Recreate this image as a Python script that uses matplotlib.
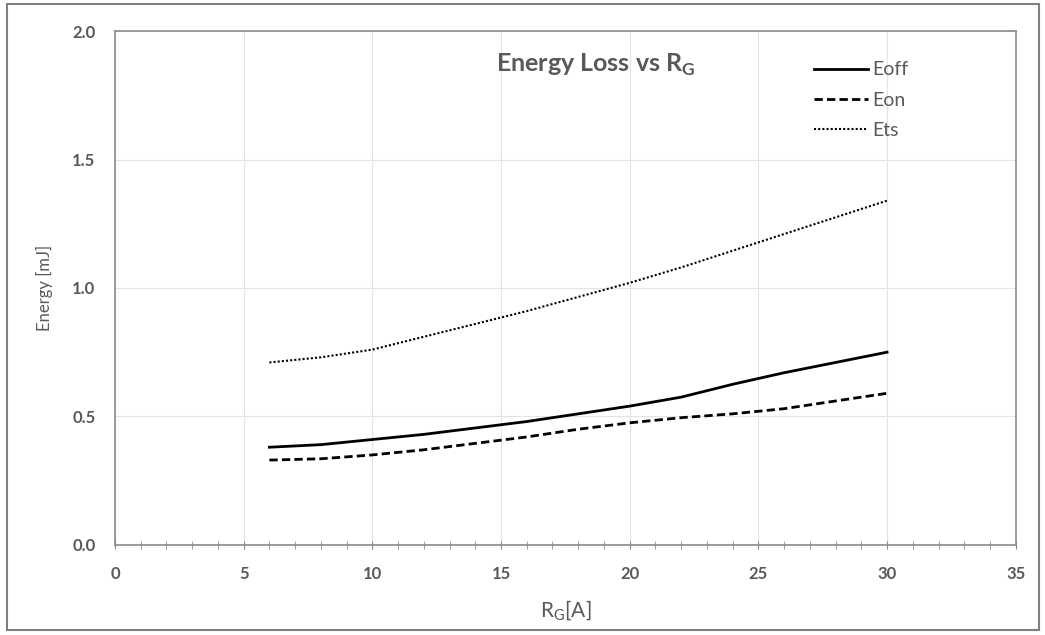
import matplotlib
matplotlib.use("Agg")
import matplotlib.pyplot as plt
from matplotlib.patches import Rectangle
from matplotlib.ticker import MultipleLocator

plt.rcParams['font.family'] = ['Lato', 'DejaVu Sans']

rg = [6, 8, 10, 12, 14, 16, 18, 20, 22, 24, 26, 28, 30]
eoff = [0.38, 0.39, 0.41, 0.43, 0.455, 0.48, 0.51, 0.54, 0.575, 0.625, 0.67, 0.71, 0.75]
eon = [0.33, 0.335, 0.35, 0.37, 0.395, 0.42, 0.45, 0.475, 0.495, 0.51, 0.53, 0.56, 0.59]
ets = [0.71, 0.73, 0.76, 0.81, 0.86, 0.91, 0.965, 1.02, 1.08, 1.145, 1.21, 1.275, 1.34]

gray = '#595959'
fig = plt.figure(figsize=(10.45, 6.35), dpi=100)
ax = fig.add_axes([0.110, 0.142, 0.862, 0.809])

ax.plot(rg, eoff, color='black', lw=2.0, ls='-', label='Eoff')
ax.plot(rg, eon, color='black', lw=2.0, ls=(0, (3, 1.5)), label='Eon')
ax.plot(rg, ets, color='black', lw=1.5, ls=(0, (1, 1)), label='Ets')

ax.set_xlim(0, 35)
ax.set_ylim(0, 2.0)
ax.xaxis.set_major_locator(MultipleLocator(5))
ax.xaxis.set_minor_locator(MultipleLocator(1))
ax.yaxis.set_major_locator(MultipleLocator(0.5))
ax.yaxis.set_major_formatter(matplotlib.ticker.FormatStrFormatter('%.1f'))
ax.grid(True, which='major', color='#e3e3e3', lw=0.8)
ax.set_axisbelow(True)
for s in ax.spines.values():
    s.set_color('#8a8a8a')
    s.set_linewidth(1.2)
ax.tick_params(axis='x', which='both', direction='inout', length=6, color='#8a8a8a',
               labelsize=12, labelcolor=gray, pad=12)
ax.tick_params(axis='y', which='both', length=0, labelsize=12, labelcolor=gray, pad=14)
for lab in ax.get_xticklabels() + ax.get_yticklabels():
    lab.set_fontweight('bold')

ax.set_xlabel(r'R$_\mathregular{G}$[A]', fontsize=15, color=gray, labelpad=12)
ax.set_ylabel('Energy [mJ]', fontsize=12, color=gray, labelpad=14)
ax.text(0.534, 0.935, r'Energy Loss vs R$_\mathregular{G}$', transform=ax.transAxes,
        ha='center', va='center', fontsize=18, fontweight='bold', color=gray)

leg = ax.legend(loc='upper right', bbox_to_anchor=(0.90, 0.975), frameon=False,
                fontsize=14, handlelength=2.8, handletextpad=0.2, labelspacing=0.68)
for t in leg.get_texts():
    t.set_color(gray)

fig.patches.append(Rectangle((0.007, 0.008), 0.987, 0.985, transform=fig.transFigure,
                             fill=False, edgecolor='#7f7f7f', lw=1.5))
fig.savefig('out.png', dpi=100)
